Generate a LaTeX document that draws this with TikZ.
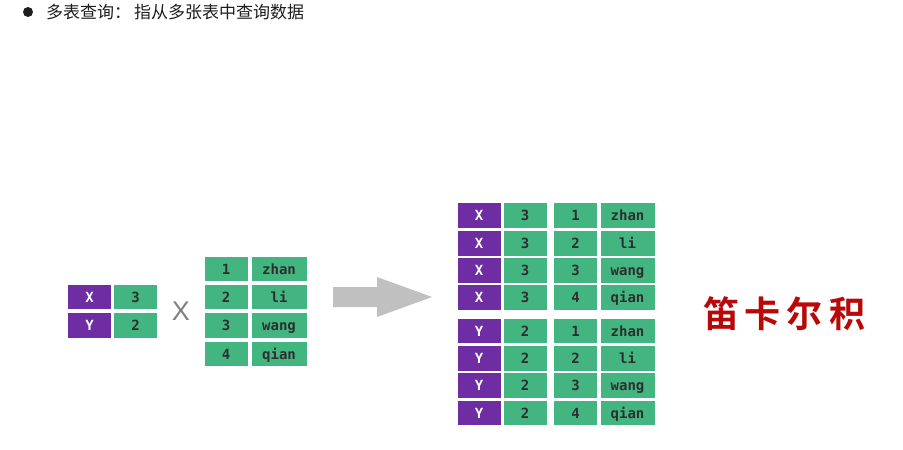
\documentclass[tikz,border=0pt]{standalone}
\usepackage{fontspec}
\setmonofont{DejaVu Sans Mono}
\newfontfamily\cjk{Noto Sans CJK SC}
\newfontfamily\cjkb{Noto Sans CJK SC Bold}
\setsansfont{Liberation Sans}
\definecolor{cellpurple}{HTML}{6E2DA2}
\definecolor{cellgreen}{HTML}{43B580}
\definecolor{celltext}{HTML}{2E2E2E}
\definecolor{titletext}{HTML}{1E1E1E}
\definecolor{arrowgray}{HTML}{C0C0C0}
\definecolor{cartred}{HTML}{B80808}
\begin{document}
\begin{tikzpicture}[x=1pt,y=-1pt,
  cellbase/.style={draw=white,line width=0.8pt,minimum height=25.5pt,inner sep=0pt,
    text height=10pt,text depth=0pt,
    font=\ttfamily\bfseries\fontsize{14}{14}\selectfont},
  pcell/.style={cellbase,fill=cellpurple,text=white,minimum width=44pt},
  gcell/.style={cellbase,fill=cellgreen,text=celltext,minimum width=44pt},
  wcell/.style={cellbase,fill=cellgreen,text=celltext,minimum width=56pt},
]
\useasboundingbox (0,0) rectangle (903,450);
% title
\node[circle,fill=titletext,inner sep=0pt,minimum size=10pt] (bullet) at (28,12) {};
\node[anchor=west,inner sep=0pt,text=titletext,font=\cjk\fontsize{17}{17}\selectfont] (title) at (46,12) {多表查询：\,指从多张表中查询数据};
% left table
\node[pcell] (la1) at (89.5,297) {X};
\node[gcell] (lb1) at (135.5,297) {3};
\node[pcell] (la2) at (89.5,325.5) {Y};
\node[gcell] (lb2) at (135.5,325.5) {2};
% times sign
\node[text=gray,font=\sffamily\fontsize{27}{27}\selectfont] (times) at (181,311) {X};
% right table
\foreach \y/\n/\w [count=\i] in {269/1/zhan,297/2/li,325.5/3/wang,354/4/qian}{
  \node[gcell] (ra\i) at (226,\y) {\n};
  \node[wcell] (rb\i) at (279,\y) {\w};
}
% block arrow
\fill[arrowgray] (333,287) -- (377,287) -- (377,277) -- (432,297) -- (377,317) -- (377,307) -- (333,307) -- cycle;
% result tables
\foreach \y/\n/\w [count=\i] in {215.5/1/zhan,243.5/2/li,270.5/3/wang,297.5/4/qian}{
  \node[pcell] (ta\i) at (479,\y) {X};
  \node[gcell] (tb\i) at (525,\y) {3};
  \node[gcell] (tc\i) at (575.5,\y) {\n};
  \node[wcell,minimum width=55pt] (td\i) at (627.5,\y) {\w};
}
\foreach \y/\n/\w [count=\i] in {331/1/zhan,358.5/2/li,385.5/3/wang,413/4/qian}{
  \node[pcell] (ba\i) at (479,\y) {Y};
  \node[gcell] (bb\i) at (525,\y) {2};
  \node[gcell] (bc\i) at (575.5,\y) {\n};
  \node[wcell,minimum width=55pt] (bd\i) at (627.5,\y) {\w};
}
% label
\node[text=cartred,font=\cjkb\fontsize{36}{36}\selectfont] (cart) at (784,314) {笛\,卡\,尔\,积};
\end{tikzpicture}
\end{document}
